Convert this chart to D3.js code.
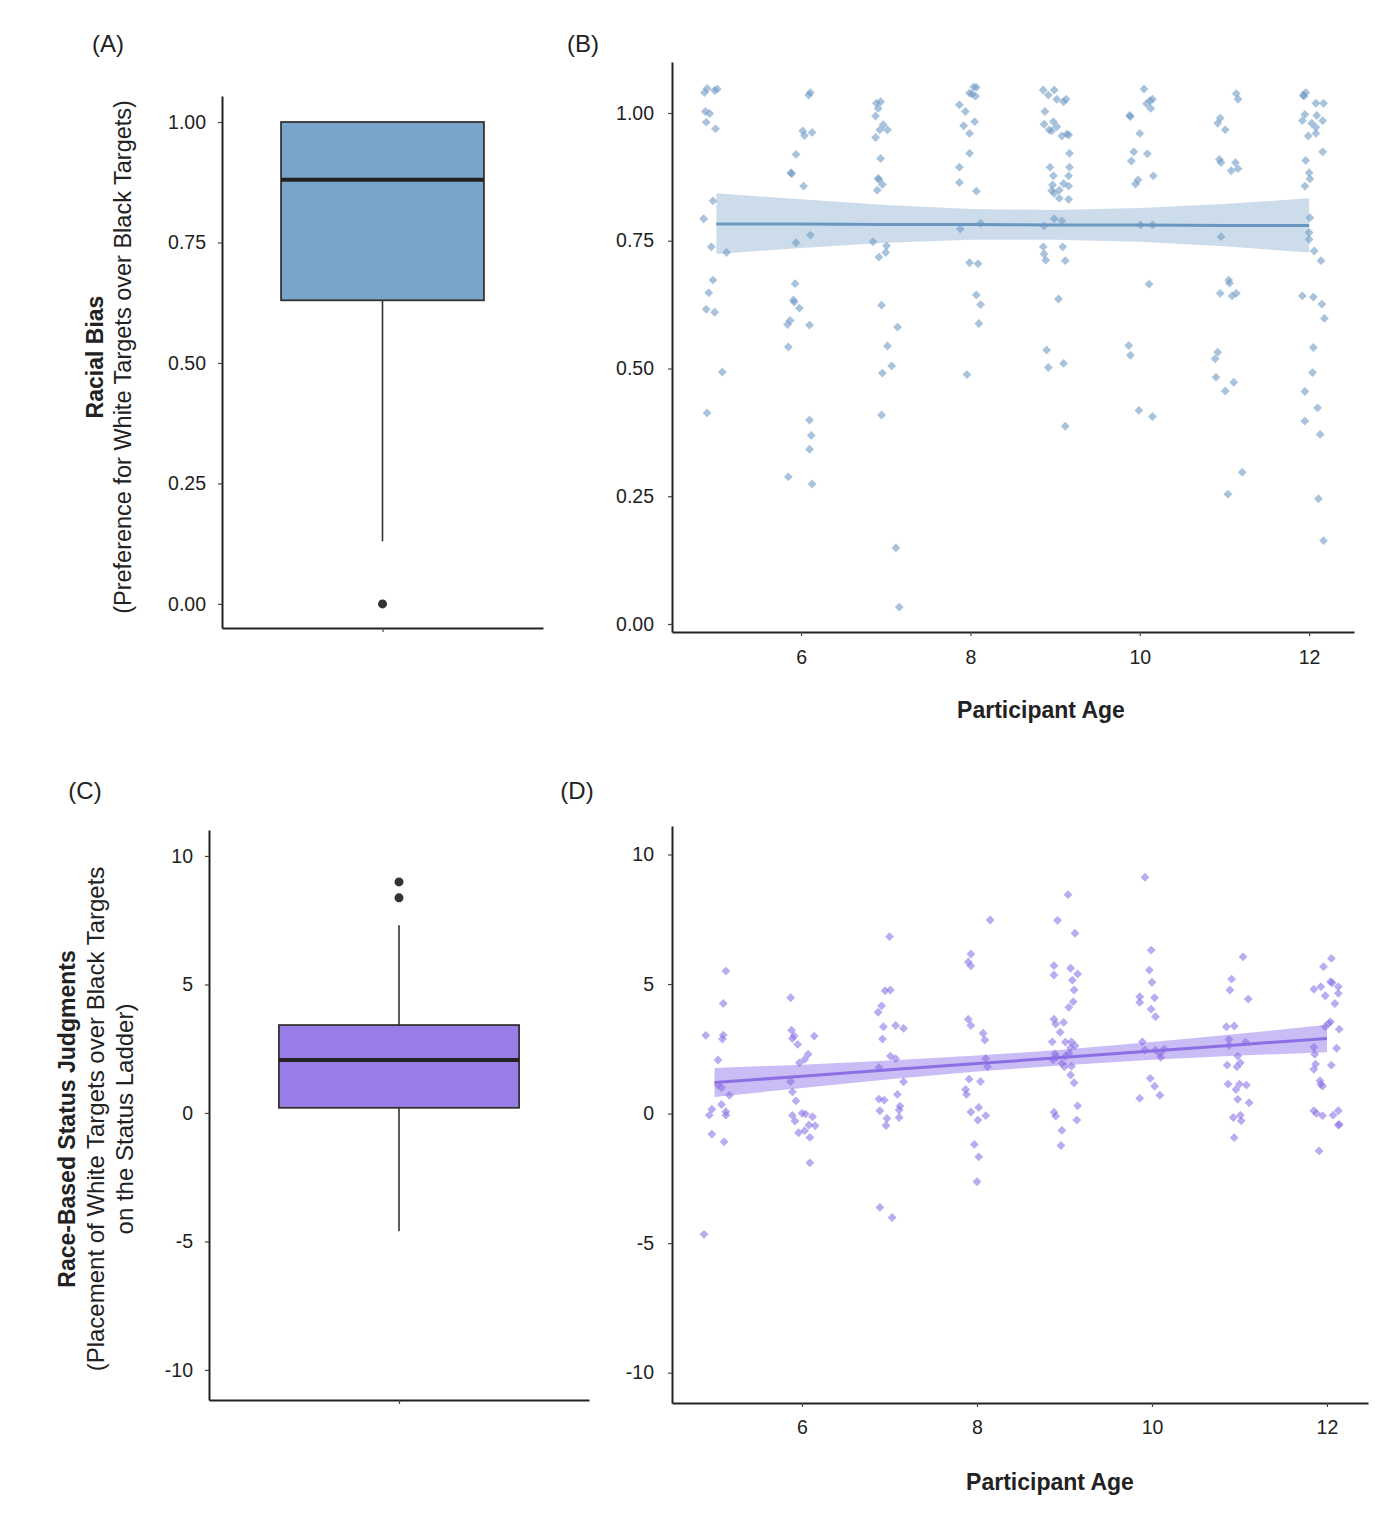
<!DOCTYPE html>
<html>
<head>
<meta charset="utf-8">
<script src="https://cdn.jsdelivr.net/npm/d3@7"></script>
<style>
  body { margin: 0; background: #fff; }
  text { font-family: "Liberation Sans", Arial, sans-serif; fill: #222; }
</style>
</head>
<body>
<svg width="1400" height="1532"></svg>
<script>
// ---- data ----
// box stats: lower whisker, Q1, median, Q3, upper whisker
const biasBox = [0.13, 0.63, 0.88, 1.00, 1.00];
const biasOutliers = [0.00];
const statusBox = [-4.6, 0.2, 2.06, 3.42, 7.3];
const statusOutliers = [8.37, 8.99];

const ageTicks = [6, 8, 10, 12];
const biasTicks = [0, 0.25, 0.5, 0.75, 1];
const statusTicks = [-10, -5, 0, 5, 10];

// panel B: jittered age and racial bias score
const biasAges = [
  4.86,4.89,4.98,5.01,4.87,4.92,4.88,4.99,4.96,4.85,4.94,5.12,4.96,4.91,4.88,4.98,5.07,4.89,
  6.09,6.11,6.02,6.04,6.13,5.94,5.88,5.89,6.03,6.11,5.94,5.93,5.91,5.92,5.98,5.87,5.84,6.10,5.85,6.10,6.12,6.10,5.85,6.13,
  6.89,6.94,6.91,6.88,6.97,6.93,7.02,6.88,6.94,6.91,6.92,6.96,6.90,6.85,7.01,7.00,6.92,6.95,7.14,7.02,7.07,6.96,6.95,7.12,7.16,
  8.04,8.07,7.99,8.06,8.02,7.87,7.94,8.05,7.92,7.99,7.99,7.87,7.87,8.07,7.88,8.12,7.99,8.09,8.07,8.12,8.10,7.96,
  8.86,8.92,8.99,9.02,9.10,9.13,8.88,8.87,8.98,8.93,8.96,9.02,9.08,9.14,9.16,9.17,8.94,9.17,8.98,9.16,8.97,9.10,9.16,8.96,8.99,9.05,9.05,9.16,8.99,9.08,8.87,8.86,8.87,8.89,9.09,9.12,9.04,8.90,8.92,9.10,9.12,
  10.05,10.12,10.15,10.08,10.13,9.88,9.89,10.00,9.93,10.09,9.90,9.98,9.95,10.16,10.01,10.15,10.11,9.87,9.89,9.99,10.15,
  11.14,11.16,10.95,10.92,11.01,10.94,10.96,11.08,11.13,11.16,10.96,11.05,11.06,10.95,11.09,11.14,10.92,10.89,10.90,11.11,11.01,11.04,11.21,
  11.93,11.96,11.94,12.08,12.17,11.95,11.92,12.09,12.16,12.03,12.08,12.08,11.99,12.16,11.96,12.00,12.01,11.95,12.01,12.00,12.00,12.06,12.14,11.92,12.05,12.15,12.18,12.05,12.04,11.95,12.10,11.95,12.13,12.11,12.17
];
const biasScores = [
  1.040,1.048,1.044,1.047,1.003,0.999,0.982,0.969,0.828,0.793,0.738,0.727,0.673,0.648,0.616,0.610,0.493,0.413,
  1.035,1.040,0.965,0.956,0.962,0.919,0.883,0.881,0.857,0.761,0.746,0.666,0.634,0.630,0.618,0.594,0.586,0.585,0.542,0.399,0.369,0.342,0.288,0.274,
  1.019,1.022,1.009,0.994,0.977,0.967,0.967,0.952,0.911,0.872,0.870,0.860,0.849,0.748,0.740,0.727,0.718,0.624,0.581,0.544,0.505,0.491,0.409,0.149,0.033,
  1.051,1.050,1.039,1.033,1.037,1.016,1.003,0.983,0.975,0.960,0.921,0.894,0.864,0.847,0.773,0.784,0.707,0.705,0.644,0.625,0.588,0.488,
  1.045,1.035,1.045,1.027,1.022,1.027,1.003,0.978,0.983,0.967,0.965,0.973,0.955,0.959,0.957,0.921,0.894,0.894,0.877,0.877,0.859,0.862,0.857,0.848,0.843,0.849,0.833,0.831,0.793,0.789,0.779,0.738,0.724,0.712,0.738,0.711,0.636,0.536,0.502,0.510,0.387,
  1.047,1.024,1.027,1.018,1.009,0.995,0.993,0.960,0.924,0.920,0.906,0.869,0.861,0.877,0.781,0.781,0.665,0.545,0.526,0.418,0.406,
  1.038,1.027,0.990,0.980,0.967,0.909,0.903,0.887,0.903,0.891,0.758,0.673,0.667,0.647,0.642,0.647,0.532,0.519,0.483,0.473,0.456,0.254,0.297,
  1.035,1.040,1.033,1.019,1.019,0.997,0.985,0.995,0.985,0.980,0.972,0.960,0.955,0.924,0.907,0.883,0.871,0.857,0.795,0.766,0.753,0.730,0.711,0.642,0.640,0.626,0.598,0.541,0.492,0.455,0.423,0.397,0.371,0.245,0.163
];

// panel D: jittered age and status judgment score
const statusAges = [
  5.13,5.10,4.90,5.10,5.09,5.04,5.04,5.08,5.17,5.08,4.97,4.94,5.13,5.13,4.97,5.11,4.88,
  5.87,5.88,5.91,5.89,6.14,5.95,6.07,6.03,5.97,5.87,5.89,5.93,5.89,5.92,6.00,6.04,6.12,6.15,6.08,5.96,6.03,6.09,6.09,
  7.00,6.95,7.01,6.91,6.87,6.93,7.07,7.16,6.92,7.01,7.07,6.88,7.16,7.09,6.88,6.94,6.89,7.12,7.11,7.11,6.97,6.96,6.89,7.03,
  8.15,7.93,7.90,7.93,7.90,7.93,8.07,8.09,8.10,8.12,7.91,8.04,7.87,7.88,7.93,8.02,8.10,8.01,7.97,8.02,8.00,
  9.04,8.92,9.12,8.88,8.88,9.07,9.15,9.09,9.11,9.10,9.05,8.88,8.90,8.99,8.95,8.86,9.01,9.08,9.12,8.89,8.91,8.87,9.01,9.05,9.07,8.97,9.00,9.08,9.07,9.11,8.88,8.90,9.15,9.14,8.97,8.96,
  9.92,9.99,9.97,10.00,9.86,9.86,10.03,9.99,10.04,9.89,9.92,10.04,10.10,10.14,10.09,9.98,10.03,10.09,9.86,
  11.04,10.91,10.89,11.10,10.85,10.94,10.88,10.88,11.07,10.98,11.01,10.97,10.86,10.87,10.96,11.00,11.08,10.98,11.11,10.93,11.01,11.02,10.94,
  12.05,11.96,11.85,11.93,12.04,12.06,12.13,12.13,11.98,12.09,11.98,12.04,12.02,12.14,11.85,12.11,11.86,11.87,11.85,12.05,11.92,11.93,11.95,11.85,11.88,11.95,12.07,12.13,12.13,12.14,11.91
];
const statusScores = [
  5.50,4.25,3.02,3.03,2.88,2.07,1.10,1.00,0.71,0.35,0.17,-0.06,0.07,-0.06,-0.79,-1.09,-4.66,
  4.47,3.22,3.00,2.90,2.99,2.67,2.29,2.09,1.96,1.24,0.84,0.49,-0.07,-0.29,0.01,-0.02,-0.12,-0.47,-0.44,-0.74,-0.66,-0.92,-1.90,
  6.83,4.74,4.77,4.16,3.91,3.35,3.40,3.29,2.88,2.22,2.12,1.78,1.23,0.74,0.56,0.52,0.11,0.29,0.14,-0.15,-0.19,-0.46,-3.62,-4.01,
  7.47,6.16,5.85,5.70,3.64,3.40,3.10,2.84,2.13,1.81,1.33,1.24,0.93,0.74,0.06,0.24,-0.08,-0.25,-1.19,-1.67,-2.63,
  8.45,7.46,6.96,5.71,5.35,5.61,5.39,5.15,4.77,4.32,4.10,3.64,3.46,3.52,3.14,2.77,2.76,2.77,2.62,2.30,2.19,2.07,2.22,2.32,2.54,1.94,1.81,1.83,1.49,1.19,0.05,-0.10,0.30,-0.25,-0.65,-1.23,
  9.12,6.31,5.54,5.07,4.51,4.29,4.47,4.03,3.74,2.77,2.45,2.45,2.17,2.49,2.32,1.36,1.06,0.71,0.59,
  6.05,5.19,4.77,4.42,3.35,3.38,2.86,2.63,2.76,2.22,1.96,1.81,1.87,1.14,0.93,1.14,1.10,0.55,0.42,-0.15,-0.06,-0.28,-0.93,
  5.99,5.67,4.80,4.90,5.09,5.05,4.90,4.64,4.55,4.25,3.35,3.54,3.48,3.26,2.56,2.52,2.29,1.91,1.71,1.87,1.27,1.13,1.06,0.11,0.01,-0.08,-0.06,0.11,-0.44,-0.42,-1.44
];

// linear fits with 95% bands, read at whole ages
const fitAges = [5, 6, 7, 8, 9, 10, 11, 12];
const biasFit = [0.783, 0.783, 0.782, 0.782, 0.781, 0.781, 0.780, 0.780];
const biasLow = [0.724, 0.736, 0.746, 0.752, 0.752, 0.748, 0.739, 0.727];
const biasHigh = [0.843, 0.831, 0.820, 0.812, 0.810, 0.814, 0.822, 0.833];
const statusFit = [1.20, 1.44, 1.69, 1.93, 2.17, 2.42, 2.66, 2.90];
const statusLow = [0.64, 0.99, 1.33, 1.62, 1.87, 2.08, 2.24, 2.37];
const statusHigh = [1.76, 1.89, 2.05, 2.24, 2.47, 2.76, 3.08, 3.43];

// ---- drawing ----
const svg = d3.select('svg');
const ink = '#222';

function panelLabel(txt, x, y) {
  svg.append('text').attr('x', x).attr('y', y).attr('text-anchor', 'middle')
    .style('font-size', '24px').text(txt);
}

function styleAxis(g) {
  g.select('.domain').attr('stroke', ink).attr('stroke-width', 2);
  g.selectAll('.tick line').attr('stroke', '#444').attr('stroke-width', 1.2);
  g.selectAll('.tick text').style('font-size', '19.5px').attr('fill', ink);
}

function yTitle(lines, cy) {
  lines.forEach(l => {
    svg.append('text')
      .attr('transform', `translate(${l.x},${cy}) rotate(-90)`)
      .attr('text-anchor', 'middle')
      .style('font-size', l.size + 'px')
      .style('font-weight', l.bold ? 'bold' : 'normal')
      .text(l.t);
  });
}

function boxPanel(o) {
  const y = d3.scaleLinear().domain(o.yDomain).range([o.bottom, o.top]);
  const x = d3.scaleLinear().domain([0, 1]).range([o.left, o.right]);
  const g = svg.append('g');

  g.append('g').attr('transform', `translate(${o.left},0)`)
    .call(d3.axisLeft(y).tickValues(o.ticks).tickFormat(o.fmt).tickSize(4).tickSizeOuter(0).tickPadding(12))
    .call(styleAxis);
  g.append('g').attr('transform', `translate(0,${o.bottom})`)
    .call(d3.axisBottom(x).tickValues([0.5]).tickFormat('').tickSize(4).tickSizeOuter(0))
    .call(styleAxis);

  const [lo, q1, med, q3, hi] = o.stats;
  const cx = x(0.5), hw = (o.right - o.left) * 0.316;
  g.append('line').attr('x1', cx).attr('x2', cx).attr('y1', y(lo)).attr('y2', y(q1))
    .attr('stroke', '#333').attr('stroke-width', 1.6);
  g.append('line').attr('x1', cx).attr('x2', cx).attr('y1', y(q3)).attr('y2', y(hi))
    .attr('stroke', '#333').attr('stroke-width', 1.6);
  g.append('rect').attr('x', cx - hw).attr('width', hw * 2)
    .attr('y', y(q3)).attr('height', y(q1) - y(q3))
    .attr('fill', o.fill).attr('stroke', '#333').attr('stroke-width', 1.8);
  g.append('line').attr('x1', cx - hw).attr('x2', cx + hw).attr('y1', y(med)).attr('y2', y(med))
    .attr('stroke', '#222').attr('stroke-width', 4);
  g.selectAll('circle.out').data(o.outliers).join('circle')
    .attr('cx', cx).attr('cy', d => y(d)).attr('r', 4.5).attr('fill', '#333');
}

function scatterPanel(o) {
  const x = d3.scaleLinear().domain(o.xDomain).range([o.left, o.right]);
  const y = d3.scaleLinear().domain(o.yDomain).range([o.bottom, o.top]);
  const g = svg.append('g');

  g.append('g').attr('transform', `translate(${o.left},0)`)
    .call(d3.axisLeft(y).tickValues(o.ticks).tickFormat(o.fmt).tickSize(4).tickSizeOuter(0).tickPadding(14))
    .call(styleAxis);
  g.append('g').attr('transform', `translate(0,${o.bottom})`)
    .call(d3.axisBottom(x).tickValues(ageTicks).tickSize(4).tickSizeOuter(0).tickPadding(o.xPad))
    .call(styleAxis);

  const pts = o.ages.map((a, i) => [a, o.scores[i]]);
  const sym = d3.symbol().type(d3.symbolDiamond2).size(50);
  g.selectAll('path.pt').data(pts).join('path')
    .attr('transform', d => `translate(${x(d[0])},${y(d[1])})`)
    .attr('d', sym)
    .attr('fill', o.pointFill).attr('fill-opacity', 0.58);

  const band = fitAges.map((a, i) => ({ a, lo: o.low[i], hi: o.high[i], f: o.fit[i] }));
  g.append('path').datum(band)
    .attr('d', d3.area().x(d => x(d.a)).y0(d => y(d.lo)).y1(d => y(d.hi)))
    .attr('fill', o.bandFill).attr('fill-opacity', o.bandOpacity);
  g.append('path').datum(band)
    .attr('d', d3.line().x(d => x(d.a)).y(d => y(d.f)))
    .attr('fill', 'none').attr('stroke', o.lineColor).attr('stroke-width', 3);

  svg.append('text').attr('x', o.titleX).attr('y', o.titleY).attr('text-anchor', 'middle')
    .style('font-size', '23px').style('font-weight', 'bold').text('Participant Age');
}

const fmt2 = d3.format('.2f');
const fmtInt = d => String(d);

// (A)
panelLabel('(A)', 108, 52);
boxPanel({ left: 222, right: 543, top: 96, bottom: 628, yDomain: [-0.05, 1.054],
  ticks: biasTicks, fmt: fmt2, stats: biasBox, outliers: biasOutliers, fill: '#79a5cb' });
yTitle([{ t: 'Racial Bias', x: 103, bold: true, size: 23 },
        { t: '(Preference for White Targets over Black Targets)', x: 131, size: 23.5 }], 357);

// (B)
panelLabel('(B)', 583, 52);
scatterPanel({ left: 672, right: 1354, top: 62, bottom: 632,
  xDomain: [4.476, 12.53], yDomain: [-0.0157, 1.0998], ticks: biasTicks, fmt: fmt2, xPad: 14,
  ages: biasAges, scores: biasScores, fit: biasFit, low: biasLow, high: biasHigh,
  pointFill: '#6b97c4', bandFill: '#6f9bc4', bandOpacity: 0.35, lineColor: '#6a97c2',
  titleX: 1041, titleY: 718 });

// (C)
panelLabel('(C)', 85, 799);
boxPanel({ left: 209, right: 589, top: 830, bottom: 1400, yDomain: [-11.17, 11.01],
  ticks: statusTicks, fmt: fmtInt, stats: statusBox, outliers: statusOutliers, fill: '#9a7ce6' });
yTitle([{ t: 'Race-Based Status Judgments', x: 75, bold: true, size: 23 },
        { t: '(Placement of White Targets over Black Targets', x: 104, size: 24 },
        { t: 'on the Status Ladder)', x: 133, size: 24 }], 1119);

// (D)
panelLabel('(D)', 577, 799);
scatterPanel({ left: 672, right: 1368, top: 826, bottom: 1403,
  xDomain: [4.514, 12.469], yDomain: [-11.17, 11.10], ticks: statusTicks, fmt: fmtInt, xPad: 13,
  ages: statusAges, scores: statusScores, fit: statusFit, low: statusLow, high: statusHigh,
  pointFill: '#8a6ee6', bandFill: '#8a6be6', bandOpacity: 0.45, lineColor: '#8c6fe3',
  titleX: 1050, titleY: 1490 });
</script>
</body>
</html>
